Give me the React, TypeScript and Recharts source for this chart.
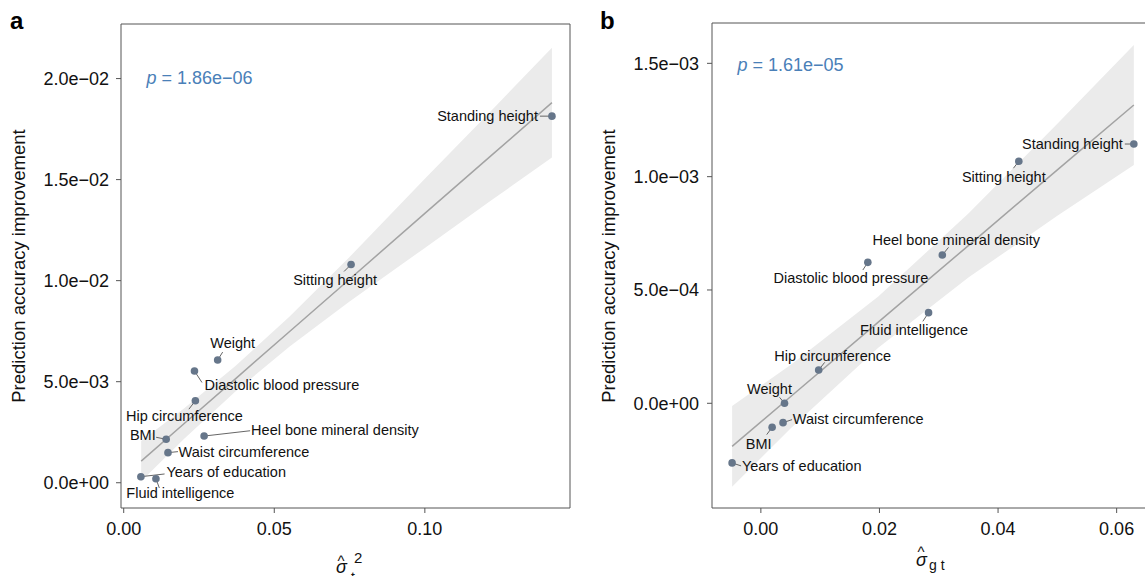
import React from "react";
import {
  ComposedChart,
  Scatter,
  Line,
  Area,
  XAxis,
  YAxis,
  ReferenceArea,
} from "recharts";

const FONT = '"Liberation Sans", Arial, Helvetica, sans-serif';

// traits, same order in both panels
const traits = [
  "Standing height",
  "Sitting height",
  "Weight",
  "Diastolic blood pressure",
  "Hip circumference",
  "BMI",
  "Heel bone mineral density",
  "Waist circumference",
  "Years of education",
  "Fluid intelligence",
];

// panel a: sigma_t^2 vs improvement
const sigmaT2 = [0.1422, 0.0755, 0.0312, 0.0235, 0.0238, 0.0141, 0.0267, 0.0147, 0.0057, 0.0107];
const improveA = [0.01814, 0.0108, 0.00607, 0.00553, 0.00406, 0.00215, 0.00231, 0.00149, 0.0003, 0.0002];
const fitXA = [0.0058, 0.02, 0.037, 0.055, 0.075, 0.1, 0.1222, 0.1422];
const fitYA = [0.00107, 0.00292, 0.00513, 0.00747, 0.01007, 0.01333, 0.01621, 0.01881];
const bandLoA = [0.00007, 0.00217, 0.0045, 0.00673, 0.00897, 0.01162, 0.01399, 0.01609];
const bandHiA = [0.00207, 0.00367, 0.00576, 0.00821, 0.01117, 0.01504, 0.01843, 0.02153];
const xTicksA = [0, 0.05, 0.1];
const xTickLabelsA = ["0.00", "0.05", "0.10"];
const yTicksA = [0, 0.005, 0.01, 0.015, 0.02];
const yTickLabelsA = ["0.0e+00", "5.0e\u221203", "1.0e\u221202", "1.5e\u221202", "2.0e\u221202"];

// panel b: sigma_gt vs improvement
const sigmaGT = [0.0629, 0.0435, 0.00399, 0.01804, 0.00975, 0.0019, 0.0306, 0.00374, -0.00485, 0.02828];
const improveB = [0.001144, 0.001068, 0.0, 0.000622, 0.000147, -0.000106, 0.000654, -0.0000853, -0.000263, 0.0004];
const fitXB = [-0.00485, 0.005, 0.0198, 0.035, 0.05, 0.0629];
const fitYB = [-0.00019, 0.000029, 0.000358, 0.000696, 0.00103, 0.001316];
const bandLoB = [-0.000368, -0.000111, 0.000245, 0.000555, 0.000827, 0.001051];
const bandHiB = [-0.000012, 0.000169, 0.000471, 0.000837, 0.001233, 0.001581];
const xTicksB = [0, 0.02, 0.04, 0.06];
const xTickLabelsB = ["0.00", "0.02", "0.04", "0.06"];
const yTicksB = [0, 0.0005, 0.001, 0.0015];
const yTickLabelsB = ["0.0e+00", "5.0e\u221204", "1.0e\u221203", "1.5e\u221203"];

// label placement (pixel offsets from the dot): text x/y, anchor, leader end
type LabelPos = { tx: number; ty: number; anchor: "start" | "middle" | "end"; ex: number; ey: number };
const labelPosA: LabelPos[] = [
  { tx: -14, ty: 0, anchor: "end", ex: -12, ey: 0 },
  { tx: -16, ty: 15, anchor: "middle", ex: -7, ey: 7 },
  { tx: 15, ty: -17, anchor: "middle", ex: 5, ey: -8 },
  { tx: 10, ty: 14, anchor: "start", ex: 7.5, ey: 11.5 },
  { tx: -11, ty: 15, anchor: "middle", ex: -6.5, ey: 8.5 },
  { tx: -10.5, ty: -4, anchor: "end", ex: -10, ey: -2 },
  { tx: 47, ty: -6, anchor: "start", ex: 46, ey: -5.3 },
  { tx: 10.6, ty: -1, anchor: "start", ex: 10, ey: -1 },
  { tx: 25.5, ty: -4.4, anchor: "start", ex: 23.7, ey: -2.7 },
  { tx: 24.4, ty: 14, anchor: "middle", ex: 3.4, ey: 9.3 },
];
const labelPosB: LabelPos[] = [
  { tx: -11, ty: 0, anchor: "end", ex: -9, ey: 0 },
  { tx: -15, ty: 15.4, anchor: "middle", ex: -5.4, ey: 7 },
  { tx: -15, ty: -14.4, anchor: "middle", ex: -5, ey: -6 },
  { tx: -17, ty: 15.4, anchor: "middle", ex: -5, ey: 7.7 },
  { tx: 14, ty: -14, anchor: "middle", ex: 6, ey: -7.6 },
  { tx: -13.5, ty: 16.6, anchor: "middle", ex: -5.4, ey: 7.3 },
  { tx: 14, ty: -15, anchor: "middle", ex: 6.2, ey: -7.7 },
  { tx: 9.7, ty: -4, anchor: "start", ex: 9, ey: -3 },
  { tx: 9.8, ty: 3.4, anchor: "start", ex: 9, ey: 3 },
  { tx: -14.5, ty: 17.3, anchor: "middle", ex: -5.7, ey: 8.7 },
];

const DOT = "#66768a";
const AXIS = "#555555";

const makeShape = (layout: LabelPos[]) => (props: any) => {
  const { cx, cy, payload } = props;
  if (cx == null || cy == null || !payload) return <g />;
  const l = layout[payload.idx];
  return (
    <g>
      <line x1={cx} y1={cy} x2={cx + l.ex} y2={cy + l.ey} stroke="#555" strokeWidth={0.9} />
      <circle cx={cx} cy={cy} r={3.8} fill={DOT} />
      <text
        x={cx + l.tx}
        y={cy + l.ty}
        dy="0.35em"
        textAnchor={l.anchor}
        fontSize={14.5}
        fontFamily={FONT}
        fill="#111"
      >
        {payload.name}
      </text>
    </g>
  );
};

type PanelProps = {
  xs: number[];
  ys: number[];
  fitX: number[];
  fitY: number[];
  lo: number[];
  hi: number[];
  xDomain: [number, number];
  yDomain: [number, number];
  xTicks: number[];
  xTickLabels: string[];
  yTicks: number[];
  yTickLabels: string[];
  layout: LabelPos[];
  width: number;
  margin: { top: number; right: number; left: number; bottom: number };
  yAxisWidth: number;
  tickMarginY: number;
};

function Panel(p: PanelProps) {
  const points = traits.map((name, i) => ({ name, idx: i, x: p.xs[i], y: p.ys[i] }));
  const band = p.fitX.map((x, i) => ({ x, fit: p.fitY[i], lo: p.lo[i], hi: p.hi[i] }));
  const tickStyle = { fontSize: 18, fontFamily: FONT, fill: "#111" };
  return (
    <ComposedChart width={p.width} height={576} data={band} margin={p.margin}>
      <XAxis
        type="number"
        dataKey="x"
        domain={p.xDomain}
        ticks={p.xTicks}
        tickFormatter={(v: number) => p.xTickLabels[p.xTicks.indexOf(v)] ?? ""}
        axisLine={false}
        tickLine={{ stroke: AXIS }}
        tickSize={5}
        tickMargin={9}
        tick={tickStyle}
        height={68}
        allowDataOverflow
      />
      <YAxis
        type="number"
        dataKey="y"
        domain={p.yDomain}
        ticks={p.yTicks}
        tickFormatter={(v: number) => p.yTickLabels[p.yTicks.indexOf(v)] ?? ""}
        axisLine={false}
        tickLine={{ stroke: AXIS }}
        tickSize={5}
        tickMargin={p.tickMarginY}
        tick={tickStyle}
        width={p.yAxisWidth}
        allowDataOverflow
      />
      <Area
        type="linear"
        dataKey={(d: any) => [d.lo, d.hi]}
        fill="#ebebeb"
        fillOpacity={1}
        stroke="none"
        isAnimationActive={false}
      />
      <Line
        type="linear"
        dataKey="fit"
        stroke="#a3a3a3"
        strokeWidth={1.5}
        dot={false}
        activeDot={false}
        isAnimationActive={false}
      />
      <Scatter data={points} shape={makeShape(p.layout)} isAnimationActive={false} />
      <ReferenceArea
        x1={p.xDomain[0]}
        x2={p.xDomain[1]}
        y1={p.yDomain[0]}
        y2={p.yDomain[1]}
        fill="none"
        stroke={AXIS}
        strokeWidth={1}
        ifOverflow="visible"
      />
    </ComposedChart>
  );
}

export default function App() {
  return (
    <div
      style={{
        position: "fixed",
        left: 0,
        top: 0,
        width: 1145,
        height: 576,
        overflow: "hidden",
        background: "#fff",
      }}
    >
      <div style={{ position: "absolute", left: 0, top: 0 }}>
        <Panel
          xs={sigmaT2}
          ys={improveA}
          fitX={fitXA}
          fitY={fitYA}
          lo={bandLoA}
          hi={bandHiA}
          xDomain={[-0.0009, 0.1482]}
          yDomain={[-0.00125, 0.0227]}
          xTicks={xTicksA}
          xTickLabels={xTickLabelsA}
          yTicks={yTicksA}
          yTickLabels={yTickLabelsA}
          layout={labelPosA}
          width={580}
          margin={{ top: 24, right: 10, left: 0, bottom: 0 }}
          yAxisWidth={121}
          tickMarginY={7}
        />
      </div>
      <div style={{ position: "absolute", left: 580, top: 0 }}>
        <Panel
          xs={sigmaGT}
          ys={improveB}
          fitX={fitXB}
          fitY={fitYB}
          lo={bandLoB}
          hi={bandHiB}
          xDomain={[-0.00824, 0.0663]}
          yDomain={[-0.000462, 0.001678]}
          xTicks={xTicksB}
          xTickLabels={xTickLabelsB}
          yTicks={yTicksB}
          yTickLabels={yTickLabelsB}
          layout={labelPosB}
          width={580}
          margin={{ top: 23, right: 6, left: 0, bottom: 0 }}
          yAxisWidth={132}
          tickMarginY={8}
        />
      </div>
      <svg
        width={1145}
        height={576}
        style={{ position: "absolute", left: 0, top: 0, pointerEvents: "none" }}
        fontFamily={FONT}
      >
        <text x={10} y={29} fontSize={24} fontWeight="bold" fill="#000">a</text>
        <text x={600} y={29} fontSize={24} fontWeight="bold" fill="#000">b</text>

        <text x={146.5} y={84.4} fontSize={18} fill="#4a80b8">
          <tspan fontStyle="italic">p</tspan> = 1.86e{"\u2212"}06
        </text>
        <text x={737.5} y={71.4} fontSize={18} fill="#4a80b8">
          <tspan fontStyle="italic">p</tspan> = 1.61e{"\u2212"}05
        </text>

        <text
          transform="translate(25,266) rotate(-90)"
          textAnchor="middle"
          fontSize={18.5}
          fill="#111"
        >
          Prediction accuracy improvement
        </text>
        <text
          transform="translate(615,266) rotate(-90)"
          textAnchor="middle"
          fontSize={18.5}
          fill="#111"
        >
          Prediction accuracy improvement
        </text>

        {/* x titles: sigma hat with super/subscripts */}
        <text fill="#111">
          <tspan x={336} y={573} fontSize={18} fontStyle="italic">σ</tspan>
          <tspan x={337.5} y={566} fontSize={15}>^</tspan>
          <tspan x={354} y={563} fontSize={15}>2</tspan>
          <tspan x={351} y={582} fontSize={14}>t</tspan>
        </text>
        <text fill="#111">
          <tspan x={916} y={566} fontSize={18} fontStyle="italic">σ</tspan>
          <tspan x={917.5} y={557} fontSize={15}>^</tspan>
          <tspan x={929} y={570} fontSize={14}>g t</tspan>
        </text>
      </svg>
    </div>
  );
}
